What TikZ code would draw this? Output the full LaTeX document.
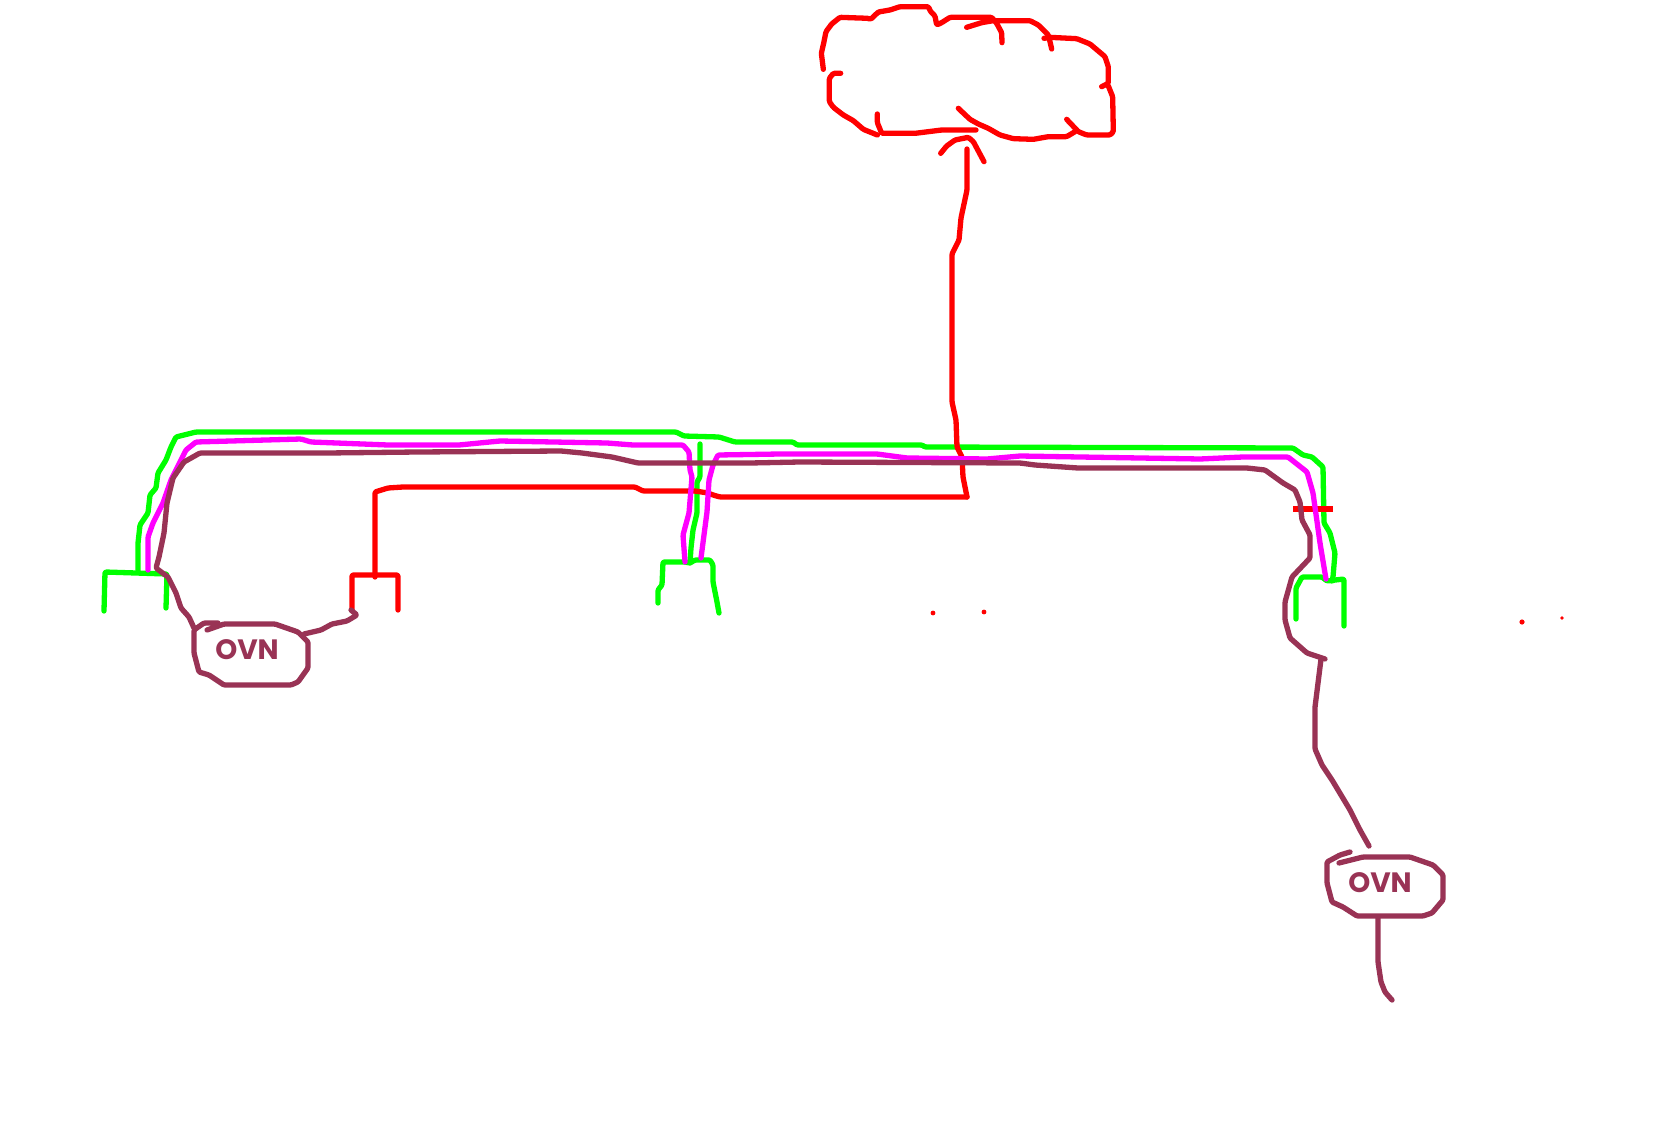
\documentclass[tikz,border=0pt]{standalone}
\usepackage{fontspec}
\setmainfont{Poppins}
\definecolor{pen red}{HTML}{FF0000}
\definecolor{pen green}{HTML}{00FF00}
\definecolor{pen magenta}{HTML}{FF00FF}
\definecolor{pen maroon}{HTML}{993355}
\tikzset{
  stroke/.style={line width=5.3pt,line cap=round,line join=round,rounded corners=1.2pt},
  redpen/.style={stroke,draw=pen red},
  greenpen/.style={stroke,draw=pen green},
  magentapen/.style={stroke,draw=pen magenta},
  maroonpen/.style={stroke,draw=pen maroon},
  ovnlabel/.style={text=pen maroon,font=\bfseries\fontsize{28}{28}\selectfont,inner sep=0pt},
  speck/.style={fill=pen red,draw=none}
}
\begin{document}
\begin{tikzpicture}[x=1pt,y=-1pt]
\useasboundingbox (0,0) rectangle (1665,1126);
\fill[white] (0,0) rectangle (1665,1126);
% cloud, traced in 3x coordinates
\begin{scope}[shift={(800,0)},x=0.33333pt,y=-0.33333pt]
\draw[redpen] (70,208)--(64,160)--(72,125)--(78,95)--(95,72)--(120,52)--(205,55)--(212,58)--(235,36)--(270,30)--(300,20)--(385,20)--(392,35)--(405,48)--(410,75)--(425,68)--(450,52)--(575,52)--(590,70)--(605,98)--(606,128);
\draw[redpen] (500,82)--(545,68)--(580,62)--(690,62)--(715,75)--(745,105)--(750,125)--(755,147);
\draw[redpen] (732,115)--(750,112)--(830,116)--(870,132)--(915,170)--(925,200)--(925,250)--(905,260);
\draw[redpen] (925,258)--(938,290)--(940,395)--(930,405)--(860,405)--(835,395)--(800,358);
\draw[redpen] (825,395)--(800,410)--(745,410)--(700,418)--(640,416)--(600,405)--(565,385)--(535,372)--(510,358)--(475,325);
\draw[redpen] (122,220)--(100,220)--(88,235)--(88,305)--(100,322)--(130,345)--(160,362)--(190,388)--(232,405);
\draw[redpen] (232,342)--(232,368)--(245,400)--(345,400)--(425,390)--(528,390);
\draw[redpen] (422,460)--(440,438)--(465,420)--(505,412)--(520,425)--(552,485);
\end{scope}
% green
\draw[greenpen] (104,611)--(105,572)--(167,574)--(166,608);
\draw[greenpen] (138,570)--(138,543)--(140,525)--(148,513)--(150,495)--(156,488)--(158,473)--(166,460)--(171,447)--(176,437)--(196,432)--(676,432)--(684,436)--(719,437)--(735,442)--(793,442)--(797,445)--(922,445)--(925,447)--(1293,448)--(1303,455)--(1312,457)--(1323,467)--(1324,523)--(1330,533)--(1335,553)--(1333,577)--(1332,581);
\draw[greenpen] (1296,619)--(1296,588)--(1302,577)--(1322,577)--(1327,581)--(1344,579)--(1344,626);
\draw[greenpen] (700,444)--(700,477)--(697,482)--(697,513)--(693,530)--(691,548)--(690,563);
\draw[greenpen] (658,603)--(658,590)--(662,585)--(663,562)--(685,562)--(690,563)--(695,560)--(710,560)--(713,565)--(713,582)--(717,602)--(719,613);
% red
\draw[redpen] (967,149)--(967,190)--(961,218)--(959,240)--(952,254)--(952,402)--(956,420)--(957,447)--(962,457)--(963,477)--(967,497);
\draw[redpen] (967,497)--(932,497)--(720,497)--(713,495)--(708,493)--(695,491)--(643,491)--(635,487)--(622,487)--(403,487)--(388,488)--(375,492)--(375,577);
\draw[redpen] (352,611)--(352,575)--(398,575)--(398,610);
\draw[line width=5.3pt,draw=pen red] (1293,509)--(1333,509);
% specks
\fill[speck] (933,613) circle (2.4pt);
\fill[speck] (984,612) circle (2.4pt);
\fill[speck] (1522,622) circle (2.6pt);
\fill[speck] (1562,618) circle (1.8pt);
% magenta
\draw[magentapen] (148,570)--(148,537)--(153,523)--(163,503)--(171,480)--(186,450)--(196,442)--(301,439)--(311,442)--(388,445)--(459,445)--(500,441)--(607,443)--(633,445)--(683,445)--(689,452)--(690,470)--(692,477)--(689,513)--(683,535)--(685,562);
\draw[magentapen] (701,558)--(707,512)--(709,480)--(713,465)--(718,455)--(780,454)--(877,454)--(907,458)--(987,459)--(1020,456)--(1200,459)--(1243,457)--(1288,457)--(1307,472)--(1313,493)--(1320,543)--(1326,579);
% maroon
\draw[maroonpen] (194,628)--(189,617)--(181,608)--(176,593)--(168,577)--(156,568)--(159,557)--(164,533)--(167,503)--(173,478)--(184,462)--(200,453)--(327,453)--(418,452)--(561,451)--(582,453)--(612,457)--(638,463)--(750,463)--(800,462)--(1020,463)--(1035,465)--(1078,468)--(1247,468)--(1265,470)--(1283,483)--(1295,490)--(1300,502)--(1302,520)--(1310,535)--(1310,558)--(1292,577)--(1285,602)--(1285,620)--(1290,638)--(1307,653)--(1325,659);
\draw[maroonpen] (1321,659)--(1315,707)--(1315,749)--(1322,765)--(1332,780)--(1350,810)--(1360,830)--(1369,846);
\draw[maroonpen] (218,623)--(204,623)--(194,630)--(194,653)--(199,672)--(209,675)--(224,685)--(291,685)--(298,682)--(308,668)--(308,642)--(298,632)--(275,624)--(224,624)--(207,630);
\draw[maroonpen] (304,634)--(321,630)--(332,624)--(347,621)--(357,615)--(351,610);
\draw[maroonpen] (1350,852)--(1340,855)--(1327,862)--(1327,883)--(1332,902)--(1343,907)--(1357,916)--(1423,916)--(1432,913)--(1443,900)--(1443,875)--(1433,865)--(1410,857)--(1363,857)--(1339,863);
\draw[maroonpen] (1378,917)--(1378,962)--(1381,982)--(1385,992)--(1392,1000);
\node[ovnlabel] (ovnleft) at (247,650) {OVN};
\node[ovnlabel] (ovnright) at (1380,883) {OVN};
\end{tikzpicture}
\end{document}
